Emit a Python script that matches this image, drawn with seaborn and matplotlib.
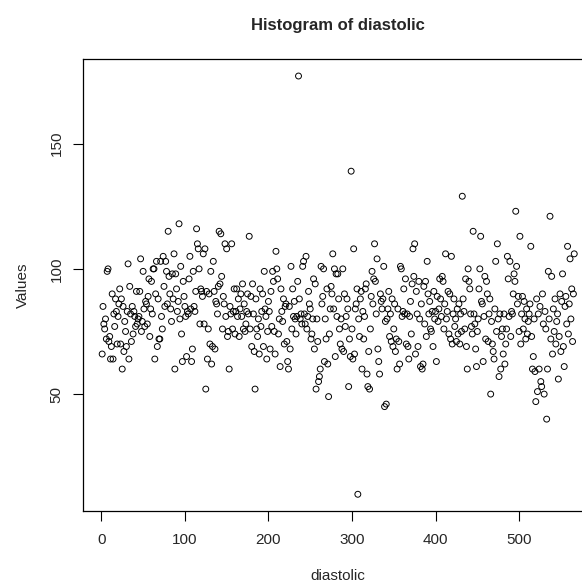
import numpy as np
import pandas as pd
import matplotlib
matplotlib.use('Agg')
import matplotlib.pyplot as plt
import seaborn as sns

# diastolic readings, in record order (20 per row)
diastolic = [
    66, 85, 78, 76, 80, 72, 99, 100, 71, 73, 64, 69, 90, 64, 82, 77, 88, 83, 70, 81,
    86, 92, 70, 88, 60, 85, 67, 79, 75, 69, 83, 102, 64, 93, 82, 71, 85, 74, 83, 81,
    77, 91, 78, 80, 81, 91, 104, 75, 79, 99, 84, 77, 87, 86, 78, 89, 96, 73, 84, 95,
    82, 100, 100, 64, 90, 103, 69, 88, 72, 72, 103, 81, 76, 105, 93, 85, 103, 99, 86, 115,
    97, 90, 84, 79, 98, 88, 106, 60, 98, 92, 83, 87, 118, 80, 101, 74, 63, 95, 89, 85,
    81, 65, 83, 82, 96, 105, 84, 63, 68, 99, 85, 83, 91, 116, 110, 108, 100, 78, 92, 91,
    89, 106, 78, 108, 52, 91, 64, 76, 90, 70, 99, 62, 69, 103, 91, 68, 87, 86, 82, 93,
    115, 94, 114, 97, 76, 89, 86, 110, 81, 108, 73, 75, 60, 85, 82, 110, 76, 83, 92, 74,
    83, 92, 81, 88, 73, 84, 90, 81, 94, 76, 86, 75, 78, 83, 90, 82, 113, 76, 89, 69,
    94, 82, 67, 52, 88, 76, 73, 80, 66, 92, 77, 83, 90, 69, 99, 84, 81, 64, 75, 87,
    83, 68, 91, 77, 99, 95, 75, 66, 107, 100, 96, 74, 80, 61, 92, 83, 79, 88, 70, 85,
    86, 71, 63, 60, 85, 68, 101, 76, 92, 81, 87, 80, 74, 81, 95, 177, 88, 80, 82, 78,
    101, 103, 82, 78, 105, 76, 81, 91, 86, 84, 72, 74, 80, 96, 68, 94, 52, 80, 71, 55,
    57, 60, 101, 86, 89, 100, 63, 80, 72, 92, 62, 49, 74, 84, 93, 90, 106, 84, 100, 65,
    98, 81, 98, 88, 76, 70, 80, 68, 100, 67, 90, 77, 81, 88, 84, 53, 72, 65, 139, 76,
    64, 108, 66, 84, 86, 92, 10, 80, 73, 88, 91, 60, 83, 72, 81, 92, 94, 58, 53, 67,
    52, 76, 89, 99, 86, 96, 110, 95, 82, 104, 68, 63, 58, 90, 87, 84, 88, 101, 45, 79,
    46, 80, 84, 91, 73, 82, 71, 88, 69, 76, 86, 67, 72, 60, 84, 71, 62, 101, 100, 81,
    83, 92, 82, 96, 70, 82, 69, 64, 81, 87, 74, 94, 108, 97, 110, 66, 91, 82, 69, 95,
    80, 61, 86, 60, 62, 93, 78, 95, 73, 103, 90, 82, 87, 76, 75, 83, 69, 91, 80, 83,
    63, 89, 79, 84, 96, 88, 81, 97, 95, 76, 86, 106, 80, 83, 91, 74, 90, 72, 105, 70,
    82, 88, 77, 80, 71, 84, 74, 86, 70, 82, 75, 129, 88, 83, 76, 96, 69, 60, 100, 95,
    92, 82, 77, 74, 115, 82, 78, 68, 61, 75, 80, 92, 100, 113, 87, 86, 63, 81, 97, 72,
    95, 90, 71, 82, 88, 50, 79, 70, 67, 64, 84, 103, 75, 110, 80, 57, 82, 60, 73, 76,
    66, 82, 62, 70, 76, 105, 96, 81, 103, 73, 83, 82, 90, 98, 95, 123, 101, 86, 89, 75,
    113, 70, 82, 89, 76, 87, 80, 72, 84, 74, 79, 82, 86, 109, 73, 60, 65, 80, 59, 47,
    88, 51, 82, 60, 85, 55, 53, 90, 78, 50, 83, 76, 40, 60, 99, 80, 121, 72, 97, 66,
    84, 75, 88, 70, 79, 82, 56, 73, 90, 67, 87, 98, 69, 61, 85, 89, 78, 109, 74, 86,
    104, 80, 92, 71, 90, 106,
]
x_ticks = [0, 100, 200, 300, 400, 500]
y_ticks = [50, 100, 150]

df = pd.DataFrame({'idx': np.arange(1, len(diastolic) + 1), 'diastolic': diastolic})

sns.set_style('white')
plt.rcParams['font.family'] = ['Liberation Sans', 'DejaVu Sans']

fig = plt.figure(figsize=(5.82, 5.83), dpi=100)
# plot box runs past the right edge, as in the reference
ax = fig.add_axes([0.1431, 0.1235, 0.876, 0.7748])

sns.scatterplot(data=df, x='idx', y='diastolic', ax=ax, marker='o', s=18,
                facecolor='none', edgecolor='black', linewidth=0.7)

# R style limits: 4% padding around the data
n = len(diastolic)
ymin, ymax = min(diastolic), max(diastolic)
ax.set_xlim(1 - 0.04 * (n - 1), n + 0.04 * (n - 1))
ax.set_ylim(ymin - 0.04 * (ymax - ymin), ymax + 0.04 * (ymax - ymin))

ax.set_xticks(x_ticks)
ax.set_yticks(y_ticks)
ax.set_yticklabels([str(v) for v in y_ticks], rotation=90, va='center')
ax.tick_params(axis='x', pad=9)
ax.tick_params(axis='y', pad=7)
ax.tick_params(axis='both', direction='out', length=7, width=0.8, color='black',
               labelsize=11, bottom=True, left=True)

for sp in ax.spines.values():
    sp.set_color('black')
    sp.set_linewidth(0.9)

ax.set_xlabel('diastolic', fontsize=11, labelpad=16)
ax.set_ylabel('Values', fontsize=11, labelpad=14)
ax.set_title('Histogram of diastolic', fontsize=12, fontweight='bold', pad=21)

fig.savefig('out.png', dpi=100)
